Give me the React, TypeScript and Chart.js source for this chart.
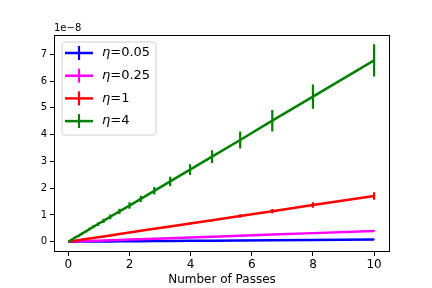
import React, { useEffect, useRef } from "react";
import { Chart, registerables } from "chart.js";

Chart.register(...registerables);

// Number of passes (x) — shared by all series
const passes = [0, 0.2, 0.33, 0.47, 0.58, 0.69, 0.82, 0.97, 1.15, 1.37, 1.67, 2.0, 2.37, 2.81, 3.33, 3.98, 4.7, 5.62, 6.67, 8.0, 10.0];

// Values in units of 1e-8
const eta005 = [0, 0.002, 0.003, 0.004, 0.005, 0.006, 0.007, 0.008, 0.009, 0.011, 0.013, 0.016, 0.019, 0.022, 0.027, 0.032, 0.038, 0.045, 0.053, 0.064, 0.08];
const eta005Err = [0, 0, 0, 0, 0, 0, 0, 0, 0, 0, 0, 0, 0.002, 0.002, 0.003, 0.003, 0.004, 0.004, 0.005, 0.006, 0.008];

const eta025 = [0, 0.008, 0.013, 0.019, 0.023, 0.028, 0.033, 0.039, 0.046, 0.055, 0.067, 0.08, 0.095, 0.112, 0.133, 0.159, 0.188, 0.225, 0.267, 0.32, 0.4];
const eta025Err = [0, 0.001, 0.001, 0.002, 0.002, 0.002, 0.003, 0.003, 0.004, 0.004, 0.005, 0.006, 0.007, 0.008, 0.01, 0.011, 0.013, 0.015, 0.018, 0.021, 0.026];

const eta1 = [0, 0.034, 0.056, 0.08, 0.099, 0.118, 0.14, 0.166, 0.197, 0.234, 0.286, 0.342, 0.405, 0.48, 0.57, 0.68, 0.8, 0.96, 1.14, 1.37, 1.71];
const eta1Err = [0, 0.004, 0.005, 0.007, 0.008, 0.009, 0.01, 0.012, 0.014, 0.016, 0.019, 0.022, 0.026, 0.03, 0.036, 0.042, 0.05, 0.065, 0.08, 0.1, 0.14];

const eta4 = [0, 0.14, 0.22, 0.32, 0.39, 0.47, 0.56, 0.66, 0.78, 0.93, 1.13, 1.35, 1.6, 1.9, 2.25, 2.69, 3.18, 3.8, 4.52, 5.42, 6.77];
const eta4Err = [0, 0.02, 0.03, 0.04, 0.05, 0.05, 0.06, 0.07, 0.08, 0.09, 0.1, 0.12, 0.12, 0.14, 0.18, 0.2, 0.24, 0.32, 0.4, 0.45, 0.6];

const etaLabels = ["0.05", "0.25", "1", "4"];
const seriesColors = ["#0000ff", "#ff00ff", "#ff0000", "#008000"];

const xTicks = [0, 2, 4, 6, 8, 10];
const yTicks = [0, 1, 2, 3, 4, 5, 6, 7];
const xLabel = "Number of Passes";
const yOffsetLabel = "1e\u22128";

const FONT = "'DejaVu Sans', sans-serif";

export default function App() {
  const ref = useRef<HTMLCanvasElement | null>(null);

  useEffect(() => {
    const canvas = ref.current;
    if (!canvas) return;
    const values = [eta005, eta025, eta1, eta4];
    const errors = [eta005Err, eta025Err, eta1Err, eta4Err];

    const datasets = values.map((vals, i) => ({
      label: "\u03b7=" + etaLabels[i],
      data: passes.map((x, j) => ({ x, y: vals[j] })),
      borderColor: seriesColors[i],
      backgroundColor: seriesColors[i],
      borderWidth: 2.5,
      pointRadius: 0,
      tension: 0,
      fill: false,
      order: 4 - i,
      errors: errors[i],
    }));

    const errorBarPlugin = {
      id: "errorBars",
      afterDatasetDraw(chart: any, args: any) {
        const ds: any = chart.data.datasets[args.index];
        const errs: number[] = ds.errors;
        const vals: number[] = values[args.index];
        const ctx = chart.ctx;
        const xs = chart.scales.x;
        const ys = chart.scales.y;
        const a = chart.chartArea;
        ctx.save();
        ctx.beginPath();
        ctx.rect(a.left, a.top, a.right - a.left, a.bottom - a.top);
        ctx.clip();
        ctx.strokeStyle = ds.borderColor;
        ctx.lineWidth = 2.2;
        ctx.beginPath();
        passes.forEach((x, j) => {
          const px = xs.getPixelForValue(x);
          const y1 = ys.getPixelForValue(vals[j] - errs[j]);
          const y2 = ys.getPixelForValue(vals[j] + errs[j]);
          ctx.moveTo(px, y1);
          ctx.lineTo(px, y2);
        });
        ctx.stroke();
        ctx.restore();
      },
    };

    const framePlugin = {
      id: "frame",
      afterDraw(chart: any) {
        const ctx = chart.ctx;
        const a = chart.chartArea;
        ctx.save();
        // spines
        ctx.strokeStyle = "#000";
        ctx.lineWidth = 1;
        ctx.strokeRect(a.left + 0.5, a.top + 0.5, a.right - a.left - 1, a.bottom - a.top - 1);
        // offset text
        ctx.fillStyle = "#000";
        ctx.font = `10px ${FONT}`;
        ctx.textAlign = "left";
        ctx.textBaseline = "alphabetic";
        ctx.fillText(yOffsetLabel, a.left, a.top - 4);
        // legend
        const lx = 62, ly = 42, lw = 94, lh = 93;
        ctx.beginPath();
        const r = 3;
        ctx.moveTo(lx + r, ly);
        ctx.arcTo(lx + lw, ly, lx + lw, ly + lh, r);
        ctx.arcTo(lx + lw, ly + lh, lx, ly + lh, r);
        ctx.arcTo(lx, ly + lh, lx, ly, r);
        ctx.arcTo(lx, ly, lx + lw, ly, r);
        ctx.closePath();
        ctx.fillStyle = "rgba(255,255,255,0.8)";
        ctx.fill();
        ctx.strokeStyle = "#d0d0d0";
        ctx.lineWidth = 1;
        ctx.stroke();
        etaLabels.forEach((lab, i) => {
          const cy = 53 + i * 22.7;
          ctx.strokeStyle = seriesColors[i];
          ctx.lineWidth = 2.5;
          ctx.beginPath();
          ctx.moveTo(65, cy);
          ctx.lineTo(93, cy);
          ctx.stroke();
          ctx.lineWidth = 2.2;
          ctx.beginPath();
          ctx.moveTo(79, cy - 7);
          ctx.lineTo(79, cy + 7);
          ctx.stroke();
          ctx.fillStyle = "#000";
          ctx.textBaseline = "middle";
          ctx.font = `italic 13px ${FONT}`;
          ctx.fillText("\u03b7", 102, cy);
          const w = ctx.measureText("\u03b7").width;
          ctx.font = `13px ${FONT}`;
          ctx.fillText("=" + lab, 102 + w, cy);
        });
        ctx.restore();
      },
    };

    const chart = new Chart(canvas, {
      type: "line",
      data: { datasets: datasets as any },
      options: {
        animation: false,
        responsive: false,
        devicePixelRatio: 1,
        layout: { padding: { top: 35, right: 42, left: 0, bottom: 0 } },
        plugins: { legend: { display: false }, tooltip: { enabled: false } },
        scales: {
          x: {
            type: "linear",
            min: -0.47,
            max: 10.52,
            afterBuildTicks: (s: any) => {
              s.ticks = xTicks.map((v) => ({ value: v }));
            },
            afterFit: (s: any) => {
              s.height = 36;
            },
            ticks: {
              font: { family: FONT, size: 12 },
              color: "#000",
              padding: 2,
              maxRotation: 0,
              callback: (v: any) => String(v),
            },
            grid: { drawOnChartArea: false, color: "#000", tickLength: 4, tickColor: "#000" },
            border: { display: false },
            title: {
              display: true,
              text: xLabel,
              font: { family: FONT, size: 12 },
              color: "#000",
              padding: { top: 0, bottom: 1 },
            },
          },
          y: {
            type: "linear",
            min: -0.385,
            max: 7.72,
            afterBuildTicks: (s: any) => {
              s.ticks = yTicks.map((v) => ({ value: v }));
            },
            afterFit: (s: any) => {
              s.width = 54;
            },
            ticks: {
              font: { family: FONT, size: 10 },
              color: "#000",
              padding: 3,
              callback: (v: any) => String(v),
            },
            grid: { drawOnChartArea: false, color: "#000", tickLength: 4, tickColor: "#000" },
            border: { display: false },
          },
        },
      },
      plugins: [errorBarPlugin, framePlugin],
    } as any);

    return () => chart.destroy();
  }, []);

  return (
    <div style={{ position: "absolute", left: 0, top: 0, width: 432, height: 288, background: "#fff" }}>
      <canvas ref={ref} width={432} height={288} style={{ width: 432, height: 288 }} />
    </div>
  );
}
